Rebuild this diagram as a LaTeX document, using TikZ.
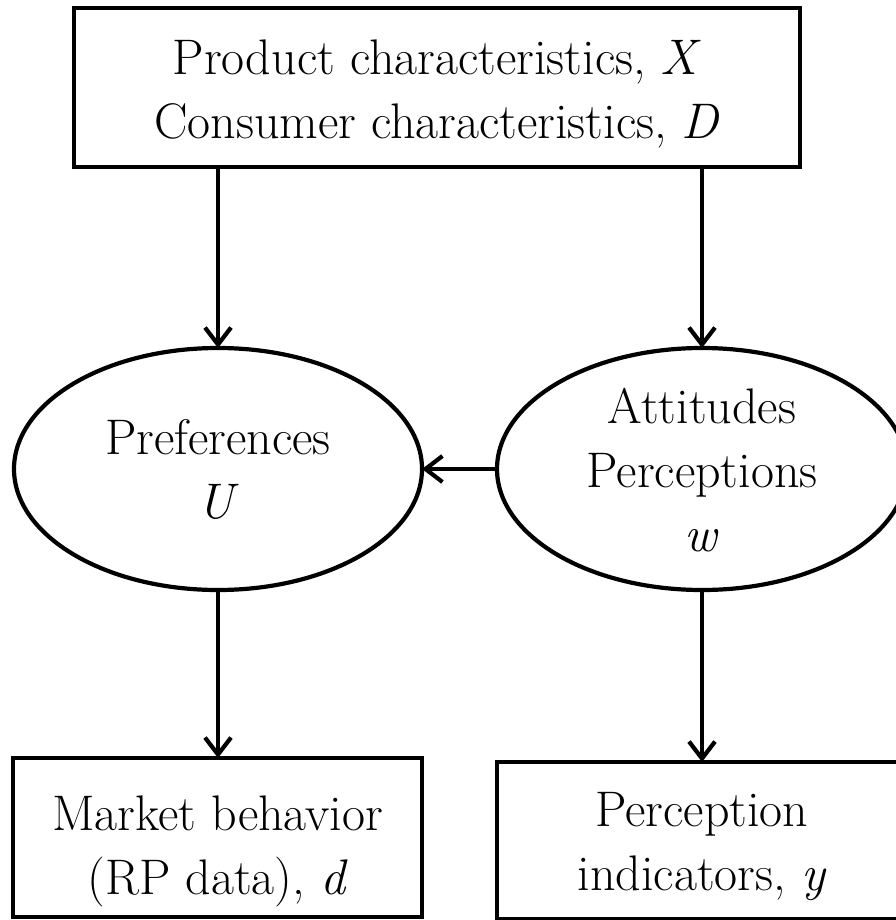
\documentclass[tikz,border=0pt]{standalone}
\usetikzlibrary{arrows.meta,shapes.geometric}
\begin{document}
\begin{tikzpicture}[x=1pt,y=-1pt,
  every node/.style={font=\fontsize{50}{64}\selectfont, align=center, inner sep=0pt, outer sep=0pt},
  boxnode/.style={draw, line width=4.2pt, rectangle},
  ovalnode/.style={draw, line width=4.2pt, ellipse},
  arr/.style={line width=4.2pt, -{Straight Barb[length=17pt,width=26pt,line width=4.2pt]}}]
\useasboundingbox (0,0) rectangle (895,920);
\node[boxnode, minimum width=726pt, minimum height=159pt] (top) at (437,87.5) {};
\node (topt) at (437,94.5)
  {Product characteristics, \textit{X}\\Consumer characteristics, \textit{D}};
\node[ovalnode, minimum width=408pt, minimum height=242pt] (pref) at (218,469) {};
\node (preft) at (218,469.4) {Preferences\\\textit{U}};
\node[ovalnode, minimum width=410pt, minimum height=242pt] (att) at (702,469) {};
\node (attt) at (702,469.6) {Attitudes\\Perceptions\\\textit{w}};
\node[boxnode, minimum width=409pt, minimum height=159pt] (mkt) at (217.5,837.5) {};
\node (mktt) at (217.5,851) {Market behavior\\(RP data), \textit{d}};
\node[boxnode, minimum width=410pt, minimum height=157pt] (ind) at (702,840.5) {};
\node (indt) at (702,846.8) {Perception\\indicators, \textit{y}};
\draw[arr] (pref.north |- top.south) -- (pref.north);
\draw[arr] (att.north |- top.south) -- (att.north);
\draw[arr] (att.west) -- (pref.east);
\draw[arr] (pref.south) -- (pref.south |- mkt.north);
\draw[arr] (att.south) -- (att.south |- ind.north);
\end{tikzpicture}
\end{document}
